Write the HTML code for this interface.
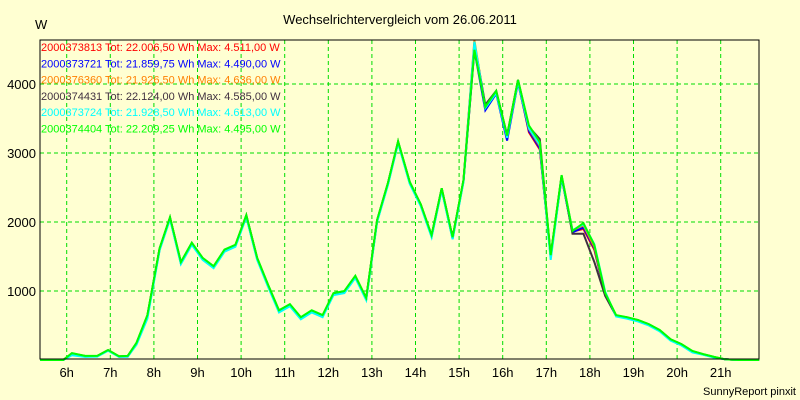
<!DOCTYPE html>
<html><head><meta charset="utf-8"><style>
body{margin:0;background:#ffffd2;}
svg{display:block;font-family:"Liberation Sans",sans-serif;}
</style></head><body>
<svg id="c" width="800" height="400">
<rect x="0" y="0" width="800" height="400" fill="#ffffd2"/>
<text x="400" y="24" text-anchor="middle" font-size="13" fill="#000">Wechselrichtervergleich vom 26.06.2011</text>
<text x="35" y="29" font-size="13" fill="#000">W</text>
<text x="796" y="395" text-anchor="end" font-size="11" fill="#000">SunnyReport pinxit</text>
<g id="grid"></g><g id="series"></g><g id="legend"></g>
<rect x="40" y="40" width="719" height="319" fill="none" stroke="#000" stroke-width="1"/>
</svg>
<script>
const times=[5.39,5.92,6.12,6.42,6.7,6.95,7.2,7.4,7.6,7.85,8.13,8.37,8.62,8.87,9.12,9.37,9.62,9.87,10.12,10.37,10.62,10.87,11.12,11.37,11.62,11.87,12.12,12.37,12.62,12.87,13.12,13.37,13.6,13.87,14.12,14.37,14.6,14.85,15.1,15.35,15.6,15.85,16.1,16.35,16.6,16.85,17.1,17.35,17.6,17.85,18.1,18.35,18.6,18.85,19.1,19.35,19.6,19.85,20.1,20.35,20.6,20.85,21.1,21.4,21.88];
const green=[0,0,100,60,60,145,55,60,250,650,1620,2070,1420,1700,1480,1360,1600,1670,2100,1480,1090,720,810,620,720,650,970,1000,1220,900,2030,2570,3170,2580,2260,1810,2490,1780,2610,4495,3670,3900,3250,4060,3400,3160,1520,2680,1870,1985,1670,970,650,620,580,520,435,300,230,130,85,45,10,0,0];
const red=[0,0,90,55,55,140,50,55,240,640,1610,2060,1410,1690,1470,1350,1590,1660,2090,1470,1080,710,800,610,710,640,960,990,1210,890,2020,2560,3160,2570,2250,1800,2480,1770,2600,4511,3650,3880,3230,4040,3300,3050,1500,2660,1860,1900,1600,950,640,615,575,515,430,295,225,125,80,40,10,0,0];
const blue=[0,0,80,50,55,140,50,50,230,630,1600,2050,1400,1680,1460,1340,1580,1650,2080,1460,1070,700,790,600,700,630,950,980,1200,880,2010,2550,3150,2560,2240,1790,2470,1760,2590,4490,3620,3860,3180,4020,3320,3070,1490,2640,1850,1920,1620,940,640,610,570,510,425,290,220,120,80,40,10,0,0];
const orange=[0,0,95,58,58,142,52,57,245,645,1615,2065,1415,1695,1475,1355,1595,1665,2095,1475,1085,715,805,615,715,645,965,995,1215,895,2025,2565,3165,2575,2255,1805,2485,1775,2605,4636,3660,3890,3240,4050,3350,3100,1510,2670,1880,1950,1640,960,645,618,578,518,432,298,228,128,82,42,10,0,0];
const dark=[0,0,95,58,58,142,52,57,245,645,1615,2065,1415,1695,1475,1355,1595,1665,2095,1475,1085,715,805,615,715,645,965,995,1215,895,2025,2565,3165,2575,2255,1805,2485,1775,2605,4585,3700,3900,3260,4060,3380,3200,1510,2670,1830,1830,1420,930,640,618,578,518,432,298,228,128,82,42,10,0,0];
const cyan=[0,0,70,45,50,135,45,50,220,600,1590,2040,1390,1670,1450,1330,1570,1640,2070,1450,1060,690,780,590,690,620,940,970,1190,870,2000,2540,3140,2550,2230,1780,2460,1750,2580,4613,3650,3870,3220,4030,3360,3120,1450,2650,1880,1970,1680,990,630,600,560,500,415,280,210,110,75,35,10,0,0];
const seriesNames=["2000373813","2000373721","2000376360","2000374431","2000373724","2000374404"];
const seriesTot=["22.006,50","21.859,75","21.926,50","22.124,00","21.928,50","22.209,25"];
const seriesMax=["4.511,00","4.490,00","4.636,00","4.585,00","4.613,00","4.495,00"];
const seriesColors=["#ff0000","#0000ff","#ff8000","#403040","#00ffff","#00ff00"];
const seriesData=[red,blue,orange,dark,cyan,green];
const yTicks=[1000,2000,3000,4000];
const xTicks=[6,7,8,9,10,11,12,13,14,15,16,17,18,19,20,21];
const NS="http://www.w3.org/2000/svg";
const X=t=>66.7+(t-6)*43.6;
const Y=v=>360-v*0.069;
const grid=document.getElementById('grid');
function mk(tag,attrs,parent){const e=document.createElementNS(NS,tag);for(const k in attrs)e.setAttribute(k,attrs[k]);parent.appendChild(e);return e;}
yTicks.forEach(v=>{
 const l=mk('line',{x1:40,x2:759,y1:Y(v),y2:Y(v),stroke:'#00dd00','stroke-dasharray':'4,3'},grid);
 
 
 const t=mk('text',{x:36,y:Y(v)+5,'text-anchor':'end','font-size':'13',fill:'#000'},grid);
 t.textContent=v;
 
 
});
xTicks.forEach(h=>{
 const l=mk('line',{x1:X(h),x2:X(h),y1:40,y2:359,stroke:'#00dd00','stroke-dasharray':'4,3'},grid);
 
 
 const t=mk('text',{x:X(h),y:377,'text-anchor':'middle','font-size':'13',fill:'#000'},grid);
 t.textContent=h+'h';
 
 
});
const sg=document.getElementById('series');
seriesData.forEach((d,i)=>{
 const p=mk('polyline',{points:d.map((v,j)=>X(times[j]).toFixed(1)+','+Y(v).toFixed(1)).join(' '),fill:'none',stroke:seriesColors[i],'stroke-width':'2','stroke-linejoin':'miter'},sg);
 
 
});
const lg=document.getElementById('legend');
seriesNames.forEach((n,i)=>{
 const t=mk('text',{x:41,y:51+i*16.3,'font-size':'11',fill:seriesColors[i]},lg);
 t.textContent=n+' Tot: '+seriesTot[i]+' Wh Max: '+seriesMax[i]+' W';
 
 
});
</script>
</body></html>
